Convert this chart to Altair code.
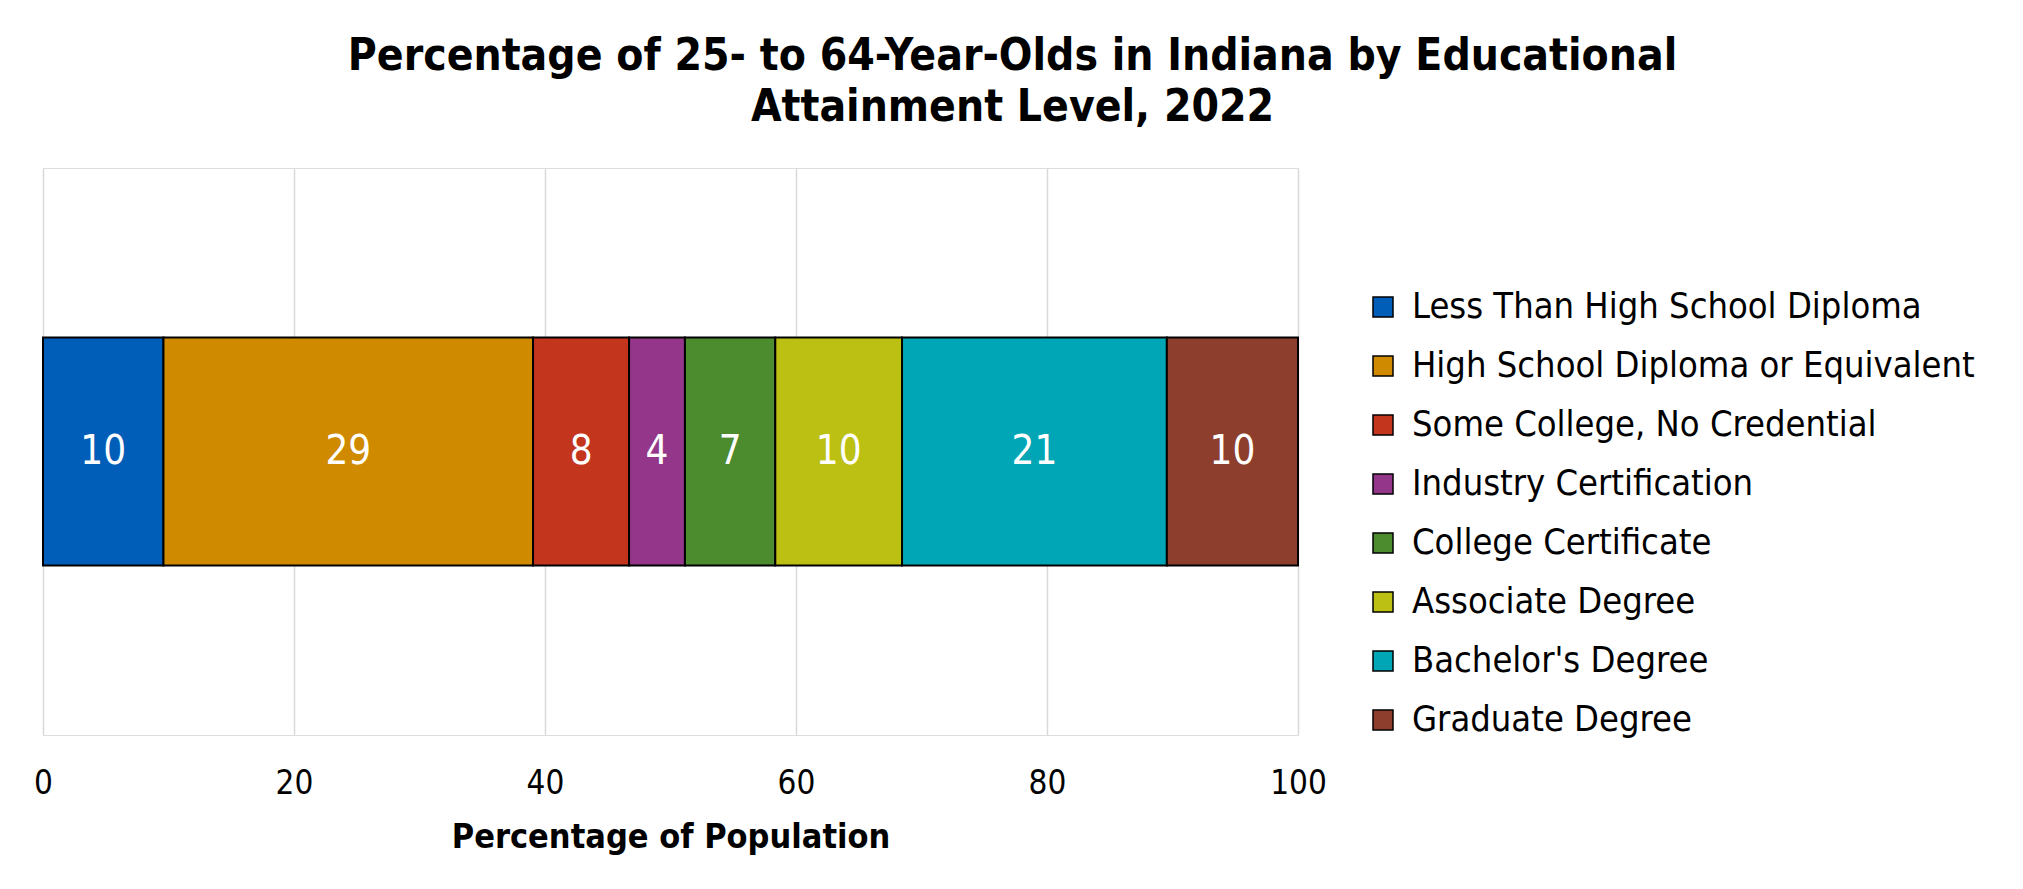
import altair as alt
import pandas as pd

categories = [
    "Less Than High School Diploma",
    "High School Diploma or Equivalent",
    "Some College, No Credential",
    "Industry Certification",
    "College Certificate",
    "Associate Degree",
    "Bachelor's Degree",
    "Graduate Degree",
]
values = [9.6, 29.45, 7.65, 4.45, 7.2, 10.1, 21.1, 10.45]
colors = ["#005EB8", "#CF8A00", "#C4351E", "#94378A", "#4C8B2E", "#BCC012", "#00A6B6", "#8E3E2C"]
x_ticks = [0, 20, 40, 60, 80, 100]

df = pd.DataFrame({
    "level": categories,
    "pct": values,
    "idx": list(range(len(categories))),
    "row": ["Indiana"] * len(categories),
})

FONT = "DejaVu Sans Condensed"

base = alt.Chart(df).transform_window(
    cum="sum(pct)", sort=[alt.SortField("idx")], frame=[None, 0]
).transform_calculate(
    mid="datum.cum - datum.pct / 2"
)

bars = base.mark_bar(size=228, stroke="black", strokeWidth=2).encode(
    x=alt.X("pct:Q", stack="zero",
            scale=alt.Scale(domain=[0, 100], nice=False),
            axis=alt.Axis(values=x_ticks, grid=True, gridColor="#d9d9d9", gridWidth=1.5,
                          domain=False, ticks=False, labelFont=FONT, labelFontSize=33,
                          labelColor="black", labelPadding=32, labelFlush=False,
                          title="Percentage of Population", titleFont=FONT, titleFontSize=34,
                          titleFontWeight="bold", titleColor="black", titlePadding=20)),
    y=alt.Y("row:N", axis=None),
    color=alt.Color("level:N",
                    scale=alt.Scale(domain=categories, range=colors),
                    legend=alt.Legend(title=None, orient="none", legendX=1322, legendY=121,
                                      labelFont=FONT, labelFontSize=36, labelColor="black",
                                      labelLimit=800, symbolType="square", symbolSize=400,
                                      symbolStrokeColor="black", symbolStrokeWidth=1.5,
                                      symbolOpacity=1, labelOffset=11, rowPadding=23)),
    order=alt.Order("idx:Q"),
)

labels = base.mark_text(color="white", font=FONT, fontSize=40).encode(
    x=alt.X("mid:Q"),
    y=alt.Y("row:N", axis=None),
    text=alt.Text("pct:Q", format=".0f"),
)

chart = alt.layer(bars, labels).properties(
    width=1255,
    height=567,
    title=alt.TitleParams(
        text=["Percentage of 25- to 64-Year-Olds in Indiana by Educational", "Attainment Level, 2022"],
        font=FONT, fontSize=44, fontWeight="bold", color="black", lineHeight=51,
        anchor="middle", dx=342, offset=38,
    ),
    autosize=alt.AutoSizeParams(type="none"),
    padding={"left": 43, "top": 168, "right": 725, "bottom": 154},
).configure_view(strokeWidth=0).configure(background="white")

chart.save("out.html", embed_options={"renderer": "svg", "actions": False})
